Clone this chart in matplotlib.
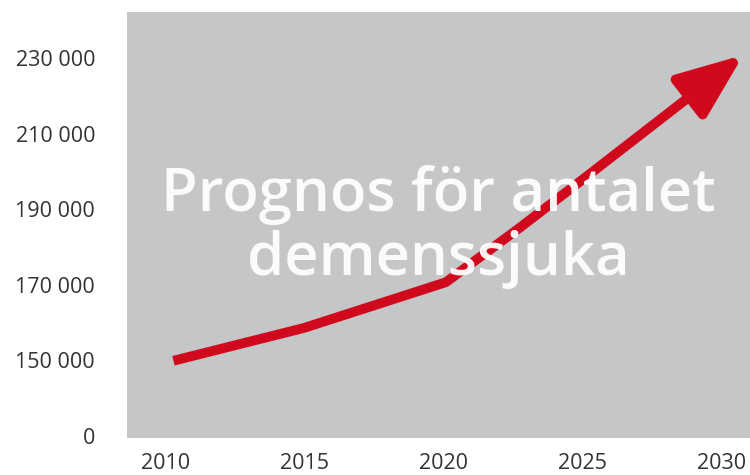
import matplotlib
matplotlib.use("Agg")
import matplotlib.pyplot as plt

# data
years = [2010.3, 2015, 2020.1, 2022.75, 2025]
values = [149800, 158500, 170600, 185000, 197700]
arrow_tip_year = 2030.8
arrow_tip_value = 230800

xtick_years = [2010, 2015, 2020, 2025, 2030]
ytick_pos = [130000, 150000, 170000, 190000, 210000, 230000]
ytick_labels = ["0", "150 000", "170 000", "190 000", "210 000", "230 000"]
title_text = "Prognos för antalet\ndemenssjuka"

plt.rcParams['font.family'] = ['Open Sans', 'DejaVu Sans']

fig = plt.figure(figsize=(7.5, 4.75), dpi=100)
ax = fig.add_axes([127/750, 1-438/475, 1-127/750, (438-12)/475])
ax.set_facecolor("#c5c6c8")
for s in ax.spines.values():
    s.set_visible(False)

ax.set_xlim(2008.63, 2031.04)
ax.set_ylim(129340, 242190)

red = "#d0091c"
ax.plot(years, values, color=red, lw=7, solid_capstyle='butt',
        solid_joinstyle='round', zorder=3)
ax.annotate("", xy=(arrow_tip_year, arrow_tip_value), xytext=(years[-1], values[-1]),
            arrowprops=dict(arrowstyle="-|>,head_length=1.0,head_width=0.4",
                            color=red, lw=7, mutation_scale=40,
                            shrinkA=0, shrinkB=0), zorder=3)

ax.text(0.5, 0.495, title_text, transform=ax.transAxes, ha='center', va='center',
        color='white', fontsize=43, fontweight='semibold', linespacing=1.12,
        alpha=0.95, zorder=4)

ax.set_xticks(xtick_years)
ax.set_xticklabels([str(y) for y in xtick_years])
ax.set_yticks(ytick_pos)
ax.set_yticklabels(ytick_labels)
ax.tick_params(axis='both', length=0, labelsize=15.5, labelcolor="#333333")
ax.tick_params(axis='y', pad=23)
ax.tick_params(axis='x', pad=11)

fig.savefig("out.png", dpi=100)
